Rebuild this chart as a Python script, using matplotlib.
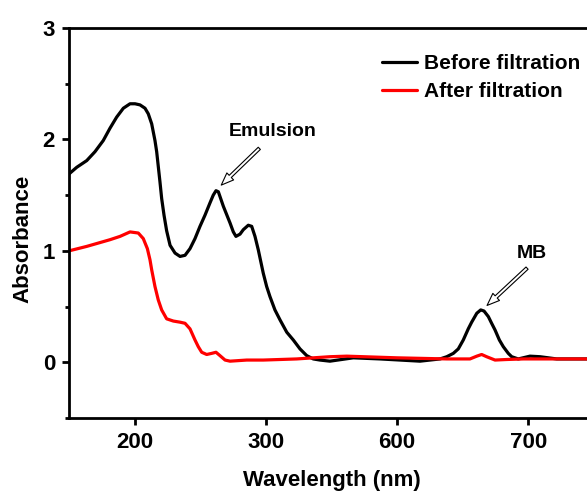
import numpy as np
import matplotlib
matplotlib.use("Agg")
import matplotlib.pyplot as plt
from matplotlib.ticker import FixedLocator, FixedFormatter, MultipleLocator

plt.rcParams['font.family'] = ['Liberation Sans', 'DejaVu Sans']
plt.rcParams['font.weight'] = 'bold'

# UV-vis spectra (wavelength in nm, absorbance)
before_nm = [150, 155.9, 163.5, 169.8, 176.1, 181.2, 186.3, 191.4, 196.5, 200.3,
             204.1, 207.9, 210.4, 213.0, 215.5, 216.8, 218.0, 219.3, 220.6, 222.4,
             224.4, 227.0, 230.8, 234.6, 238.4, 242.2, 246.0, 249.8, 253.6, 257.4,
             259.9, 262.0, 263.8, 267.6, 272.7, 275.2, 277.2, 280.3, 282.8, 286.6,
             289.2, 291.7, 294.2, 298.0, 301.8, 309.3, 320.7, 332.4, 347.7, 362.7,
             378, 393.3, 408.3, 423.6, 446.4, 499.8, 561, 602.2, 617.4, 632.7,
             637.8, 642.8, 646.6, 650.4, 654.2, 656.8, 660.7, 663.7, 666.2, 669.5,
             672.0, 674.6, 677.9, 680.9, 684.7, 687.3, 692.3, 701.2, 708.9, 721.6,
             750]
before_abs = [1.69, 1.75, 1.81, 1.89, 1.99, 2.10, 2.20, 2.28, 2.32, 2.32,
              2.31, 2.28, 2.23, 2.14, 1.99, 1.89, 1.76, 1.62, 1.47, 1.32,
              1.18, 1.05, 0.98, 0.95, 0.96, 1.02, 1.11, 1.22, 1.32, 1.43,
              1.50, 1.54, 1.53, 1.40, 1.25, 1.17, 1.13, 1.15, 1.19, 1.23,
              1.22, 1.13, 1.01, 0.80, 0.68, 0.59, 0.47, 0.38, 0.27, 0.20,
              0.12, 0.06, 0.03, 0.02, 0.01, 0.04, 0.03, 0.02, 0.01, 0.03,
              0.05, 0.08, 0.12, 0.20, 0.30, 0.36, 0.44, 0.47, 0.46, 0.41,
              0.35, 0.29, 0.20, 0.14, 0.08, 0.05, 0.03, 0.055, 0.05, 0.03,
              0.03]

after_nm = [150, 163.5, 181.2, 188.9, 196.5, 202.8, 206.6, 209.7, 211.7, 213.0,
            215.5, 218.0, 220.6, 224.4, 229.5, 234.6, 238.4, 242.2, 246.0, 248.5,
            251.1, 254.9, 258.7, 262.0, 265.0, 268.9, 272.7, 285.4, 298.0, 370.4,
            446.4, 485, 600, 638, 655.5, 660.7, 664.4, 668.2, 674.6, 683.5,
            696.1, 750]
after_abs = [1.00, 1.04, 1.10, 1.13, 1.17, 1.16, 1.11, 1.02, 0.92, 0.83,
             0.68, 0.56, 0.47, 0.39, 0.37, 0.36, 0.35, 0.30, 0.20, 0.14,
             0.09, 0.07, 0.08, 0.09, 0.06, 0.02, 0.01, 0.02, 0.02, 0.03,
             0.05, 0.055, 0.04, 0.03, 0.03, 0.055, 0.07, 0.05, 0.02, 0.025,
             0.03, 0.03]

x_ticks = [200, 300, 600, 700]
x_tick_labels = ['200', '300', '600', '700']
y_ticks = [0, 1, 2, 3]

# Broken wavelength axis: 300-600 nm is compressed to a third
_nm_pts = [-1e4, 300, 600, 1e4]
_u_pts = [-1e4, 300, 400, 1e4 - 200]


def fwd(x):
    return np.interp(x, _nm_pts, _u_pts)


def inv(u):
    return np.interp(u, _u_pts, _nm_pts)


fig = plt.figure(figsize=(5.87, 4.93), dpi=100)
ax = fig.add_axes([69 / 587, 1 - 418 / 493, 525 / 587, 390 / 493])
ax.set_xscale('function', functions=(fwd, inv))

ax.plot(before_nm, before_abs, color='black', lw=2.3, label='Before filtration',
        solid_joinstyle='round', solid_capstyle='round')
ax.plot(after_nm, after_abs, color='#ff0000', lw=2.3, label='After filtration',
        solid_joinstyle='round', solid_capstyle='round')

ax.set_xlim(150, 750)
ax.set_ylim(-0.5, 3)
ax.xaxis.set_major_locator(FixedLocator(x_ticks))
ax.xaxis.set_major_formatter(FixedFormatter(x_tick_labels))
ax.xaxis.set_minor_locator(FixedLocator([]))
ax.yaxis.set_major_locator(FixedLocator(y_ticks))
ax.yaxis.set_minor_locator(MultipleLocator(0.5))

for s in ax.spines.values():
    s.set_linewidth(2.0)
ax.tick_params(which='major', direction='out', length=5, width=2,
               labelsize=16, pad=5)
ax.tick_params(which='minor', direction='out', length=3, width=2)
for lab in ax.get_xticklabels() + ax.get_yticklabels():
    lab.set_fontweight('bold')

ax.set_xlabel('Wavelength (nm)', fontsize=16, fontweight='bold', labelpad=12)
ax.set_ylabel('Absorbance', fontsize=16, fontweight='bold')
ax.yaxis.set_label_coords(-0.067, 0.46)

arrow_style = dict(arrowstyle='simple,head_length=0.9,head_width=0.7,tail_width=0.22',
                   fc='white', ec='black', lw=0.8, shrinkA=0, shrinkB=0)
ax.annotate('', xy=(266, 1.59), xytext=(295, 1.92), arrowprops=arrow_style)
ax.text(272, 2.07, 'Emulsion', fontsize=14, fontweight='bold',
        ha='left', va='center')
ax.annotate('', xy=(668.5, 0.51), xytext=(699, 0.845), arrowprops=arrow_style)
ax.text(703, 0.98, 'MB', fontsize=14, fontweight='bold', ha='center', va='center')

leg = ax.legend(loc='upper left', bbox_to_anchor=(382 / 587, 1 - 54 / 493),
                bbox_transform=fig.transFigure, frameon=False, fontsize=15,
                handlelength=1.7, handletextpad=0.3, labelspacing=0.44,
                borderpad=0, borderaxespad=0)
for t in leg.get_texts():
    t.set_fontweight('bold')

fig.savefig('out.png', dpi=100)
